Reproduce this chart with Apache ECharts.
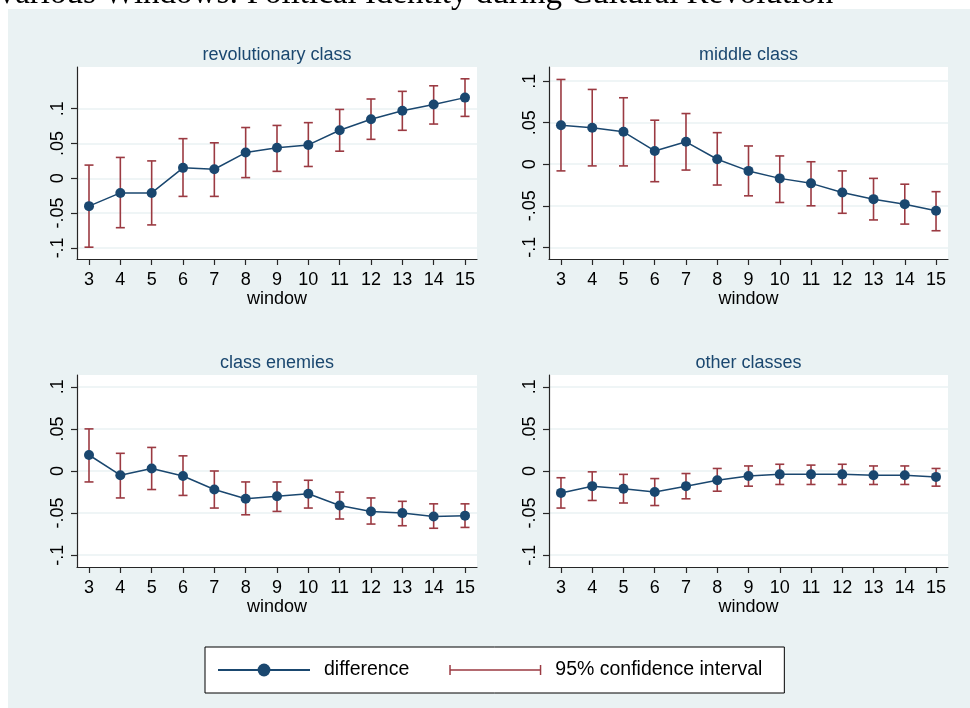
<!DOCTYPE html>
<html>
<head>
<meta charset="utf-8">
<script src="https://cdn.jsdelivr.net/npm/echarts@6/dist/echarts.min.js"></script>
<style>
  html, body { margin: 0; padding: 0; background: #ffffff; }
  #chart { width: 970px; height: 708px; }
</style>
</head>
<body>
<div id="chart"></div>
<script>
// ---------------- data ----------------
const windows = [3, 4, 5, 6, 7, 8, 9, 10, 11, 12, 13, 14, 15];
const yTickValues = [-0.1, -0.05, 0, 0.05, 0.1];
const yTickLabels = ['-.1', '-.05', '0', '.05', '.1'];

const panelTitles = ['revolutionary class', 'middle class', 'class enemies', 'other classes'];

const revDiff = [-0.040, -0.021, -0.021, 0.015, 0.013, 0.037, 0.044, 0.048, 0.069, 0.085, 0.097, 0.106, 0.116];
const revLo   = [-0.099, -0.071, -0.067, -0.026, -0.026, 0.001, 0.010, 0.017, 0.039, 0.056, 0.069, 0.078, 0.089];
const revHi   = [0.019, 0.030, 0.025, 0.057, 0.051, 0.073, 0.076, 0.080, 0.099, 0.114, 0.125, 0.133, 0.143];

const midDiff = [0.047, 0.044, 0.039, 0.016, 0.027, 0.006, -0.008, -0.017, -0.023, -0.034, -0.042, -0.048, -0.056];
const midLo   = [-0.008, -0.002, -0.002, -0.021, -0.007, -0.025, -0.038, -0.046, -0.050, -0.059, -0.067, -0.072, -0.080];
const midHi   = [0.102, 0.090, 0.080, 0.053, 0.061, 0.038, 0.022, 0.010, 0.003, -0.008, -0.017, -0.024, -0.033];

const eneDiff = [0.019, -0.005, 0.003, -0.006, -0.022, -0.033, -0.030, -0.027, -0.041, -0.048, -0.050, -0.054, -0.053];
const eneLo   = [-0.013, -0.032, -0.022, -0.029, -0.044, -0.052, -0.048, -0.044, -0.057, -0.063, -0.065, -0.068, -0.067];
const eneHi   = [0.050, 0.021, 0.028, 0.018, 0.000, -0.013, -0.013, -0.011, -0.025, -0.032, -0.036, -0.039, -0.039];

const othDiff = [-0.026, -0.018, -0.021, -0.025, -0.018, -0.011, -0.006, -0.004, -0.004, -0.004, -0.005, -0.005, -0.007];
const othLo   = [-0.044, -0.035, -0.038, -0.041, -0.033, -0.024, -0.018, -0.016, -0.016, -0.016, -0.016, -0.016, -0.018];
const othHi   = [-0.008, -0.001, -0.004, -0.009, -0.003, 0.003, 0.006, 0.008, 0.007, 0.008, 0.006, 0.006, 0.003];

const diffs = [revDiff, midDiff, eneDiff, othDiff];
const los = [revLo, midLo, eneLo, othLo];
const his = [revHi, midHi, eneHi, othHi];

// ---------------- layout / style ----------------
const FONT = "'Liberation Sans', Arial, Helvetica, sans-serif";
const NAVY = '#1a476f';
const MAROON = '#9b3a42';
const BG = '#eaf2f3';
const AXIS = '#262626';

const grids = [
  { left: 77,  top: 67,  width: 400, height: 192 },
  { left: 549, top: 67,  width: 399, height: 192 },
  { left: 77,  top: 375, width: 400, height: 192 },
  { left: 549, top: 375, width: 399, height: 192 }
];
const yRanges = [[-0.116, 0.160], [-0.114, 0.117], [-0.114, 0.114], [-0.114, 0.114]];
const xRange = [2.617, 15.383];

function yLabel(v) {
  let best = 0, bd = Infinity;
  yTickValues.forEach((t, i) => { const d = Math.abs(t - v); if (d < bd) { bd = d; best = i; } });
  return yTickLabels[best];
}

const option = {
  backgroundColor: '#ffffff',
  animation: false,
  graphic: [
    { type: 'rect', z: -10, silent: true, shape: { x: 8, y: 9, width: 962, height: 699 }, style: { fill: BG } }
  ],
  title: [
    {
      text: 'Various Windows: Political Identity during Cultural Revolution',
      left: -5, top: -22, padding: 0,
      textStyle: { fontFamily: "'Liberation Serif', 'Times New Roman', serif", fontSize: 33, fontWeight: 'normal', color: '#000' }
    }
  ].concat(panelTitles.map((t, i) => ({
    text: t,
    left: grids[i].left + grids[i].width / 2,
    top: grids[i].top - 21,
    textAlign: 'center',
    padding: 0,
    textStyle: { fontFamily: FONT, fontSize: 18, fontWeight: 'normal', color: NAVY }
  }))),
  legend: {
    left: 205, top: 647,
    orient: 'horizontal',
    padding: [13, 22, 13, 12],
    itemGap: 40,
    itemWidth: 92,
    itemHeight: 16,
    selectedMode: false,
    backgroundColor: '#ffffff',
    borderColor: '#000000',
    borderWidth: 1,
    borderRadius: 0,
    textStyle: { fontFamily: FONT, fontSize: 19.5, color: '#000', padding: [0, 0, 0, 9] },
    data: [
      { name: 'difference' },
      { name: '95% confidence interval',
        icon: 'path://M0,0L0.01,0L0,0.01Z M0,16L0.01,16L0,15.99Z M0,2.7H1.6V7.3H98.4V2.7H100V13.3H98.4V8.7H1.6V13.3H0Z',
        itemStyle: { color: MAROON } }
    ]
  },
  grid: grids.map(g => Object.assign({}, g, {
    show: true, backgroundColor: '#ffffff', borderWidth: 0, containLabel: false, outerBoundsMode: 'none'
  })),
  xAxis: grids.map((g, i) => ({
    type: 'value', gridIndex: i, min: xRange[0], max: xRange[1],
    name: 'window', nameLocation: 'middle', nameGap: 31,
    nameTextStyle: { fontFamily: FONT, fontSize: 18, color: '#000' },
    axisLine: { show: true, onZero: false, lineStyle: { color: AXIS, width: 1.2 } },
    axisTick: { show: true, inside: false, length: 6, customValues: windows, lineStyle: { color: AXIS, width: 1.2 } },
    axisLabel: { show: true, margin: 12, customValues: windows, fontFamily: FONT, fontSize: 18, color: '#000',
                 formatter: v => String(Math.round(v)) },
    splitLine: { show: false }
  })),
  yAxis: grids.map((g, i) => ({
    type: 'value', gridIndex: i, min: yRanges[i][0], max: yRanges[i][1],
    axisLine: { show: true, onZero: false, lineStyle: { color: AXIS, width: 1.2 } },
    axisTick: { show: true, inside: false, length: 6, customValues: yTickValues, lineStyle: { color: AXIS, width: 1.2 } },
    axisLabel: { show: true, margin: 10, rotate: 90, customValues: yTickValues, fontFamily: FONT, fontSize: 18, color: '#000',
                 formatter: v => yLabel(v) },
    splitLine: { show: true, lineStyle: { color: BG, width: 1.5 } }
  })),
  series: []
};

for (let i = 0; i < 4; i++) {
  option.series.push({
    name: '95% confidence interval',
    type: 'custom',
    xAxisIndex: i, yAxisIndex: i,
    itemStyle: { color: MAROON },
    encode: { x: 0, y: [1, 2] },
    data: windows.map((w, k) => [w, los[i][k], his[i][k]]),
    z: 2,
    renderItem: function (params, api) {
      const x = api.value(0);
      const pLo = api.coord([x, api.value(1)]);
      const pHi = api.coord([x, api.value(2)]);
      const hw = 4.5;
      const st = { stroke: MAROON, lineWidth: 1.6, fill: null };
      return {
        type: 'group',
        children: [
          { type: 'line', shape: { x1: pLo[0], y1: pLo[1], x2: pHi[0], y2: pHi[1] }, style: st },
          { type: 'line', shape: { x1: pLo[0] - hw, y1: pLo[1], x2: pLo[0] + hw, y2: pLo[1] }, style: st },
          { type: 'line', shape: { x1: pHi[0] - hw, y1: pHi[1], x2: pHi[0] + hw, y2: pHi[1] }, style: st }
        ]
      };
    }
  });
  option.series.push({
    name: 'difference',
    type: 'line',
    xAxisIndex: i, yAxisIndex: i,
    data: windows.map((w, k) => [w, diffs[i][k]]),
    symbol: 'circle', symbolSize: 10,
    showSymbol: true,
    lineStyle: { color: NAVY, width: 1.5 },
    itemStyle: { color: NAVY },
    z: 3
  });
}

const chart = echarts.init(document.getElementById('chart'), null, { renderer: 'canvas' });
chart.setOption(option);
</script>
</body>
</html>
